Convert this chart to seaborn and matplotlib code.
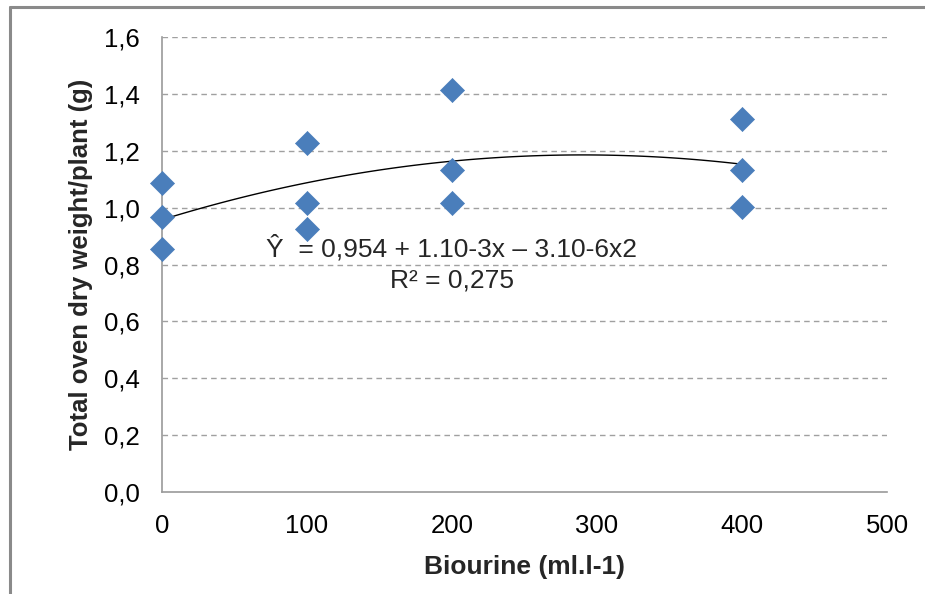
import numpy as np
import pandas as pd
import matplotlib
matplotlib.use("Agg")
import matplotlib.pyplot as plt
import seaborn as sns
from matplotlib.lines import Line2D

# Data
biourine = [0, 0, 0, 100, 100, 100, 200, 200, 200, 400, 400, 400]
dry_weight = [1.087, 0.967, 0.854, 1.227, 1.016, 0.925, 1.413, 1.132, 1.016, 1.312, 1.132, 1.002]
y_ticks = [0.0, 0.2, 0.4, 0.6, 0.8, 1.0, 1.2, 1.4, 1.6]
x_ticks = [0, 100, 200, 300, 400, 500]
equation_text = "Ŷ  = 0,954 + 1.10-3x – 3.10-6x2"
r2_text = "R² = 0,275"

df = pd.DataFrame({"x": biourine, "y": dry_weight})

sns.set_style("white")
plt.rcParams["font.family"] = ["Liberation Sans", "DejaVu Sans"]

fig = plt.figure(figsize=(9.25, 5.94), dpi=100)
ax = fig.add_axes([162/925, 102/594, 725/925, 455/594])

sns.regplot(data=df, x="x", y="y", order=2, ci=None, scatter=False, ax=ax,
            line_kws=dict(color="black", lw=1.0, zorder=3))
sns.scatterplot(data=df, x="x", y="y", marker="D", s=150, color="#4a7ebb",
                edgecolor="#4a7ebb", linewidth=0.5, ax=ax, zorder=4, clip_on=False)

ax.set_xlim(0, 500)
ax.set_ylim(0, 1.6)
ax.set_xticks(x_ticks)
ax.set_yticks(y_ticks)
ax.set_yticklabels([f"{v:.1f}".replace(".", ",") for v in y_ticks])
ax.tick_params(axis="both", labelsize=18.5, length=0, colors="black")
ax.tick_params(axis="x", pad=16)
ax.tick_params(axis="y", pad=16)

for v in y_ticks[1:]:
    ax.axhline(v, color="#a0a0a0", lw=1.0, ls=(0, (4, 3)), zorder=1)

for side in ["top", "right"]:
    ax.spines[side].set_visible(False)
for side in ["left", "bottom"]:
    ax.spines[side].set_color("#9a9a9a")
    ax.spines[side].set_linewidth(1.2)

ax.set_xlabel("Biourine (ml.l-1)", fontsize=19, fontweight="bold", labelpad=12)
ax.set_ylabel("Total oven dry weight/plant (g)", fontsize=18.5, fontweight="bold", labelpad=8)

ax.text(200, 0.858, equation_text, ha="center", va="center", fontsize=19, zorder=5)
ax.text(200, 0.742, r2_text, ha="center", va="center", fontsize=19, zorder=5)

# outer chart frame (top and left edges visible)
fig.add_artist(Line2D([9.5/925, 9.5/925], [0, 1 - 7/594], transform=fig.transFigure,
                      color="#8a8a8a", lw=2.2))
fig.add_artist(Line2D([9.5/925, 1], [1 - 7/594, 1 - 7/594], transform=fig.transFigure,
                      color="#8a8a8a", lw=2.2))

fig.savefig("out.png", dpi=100)
